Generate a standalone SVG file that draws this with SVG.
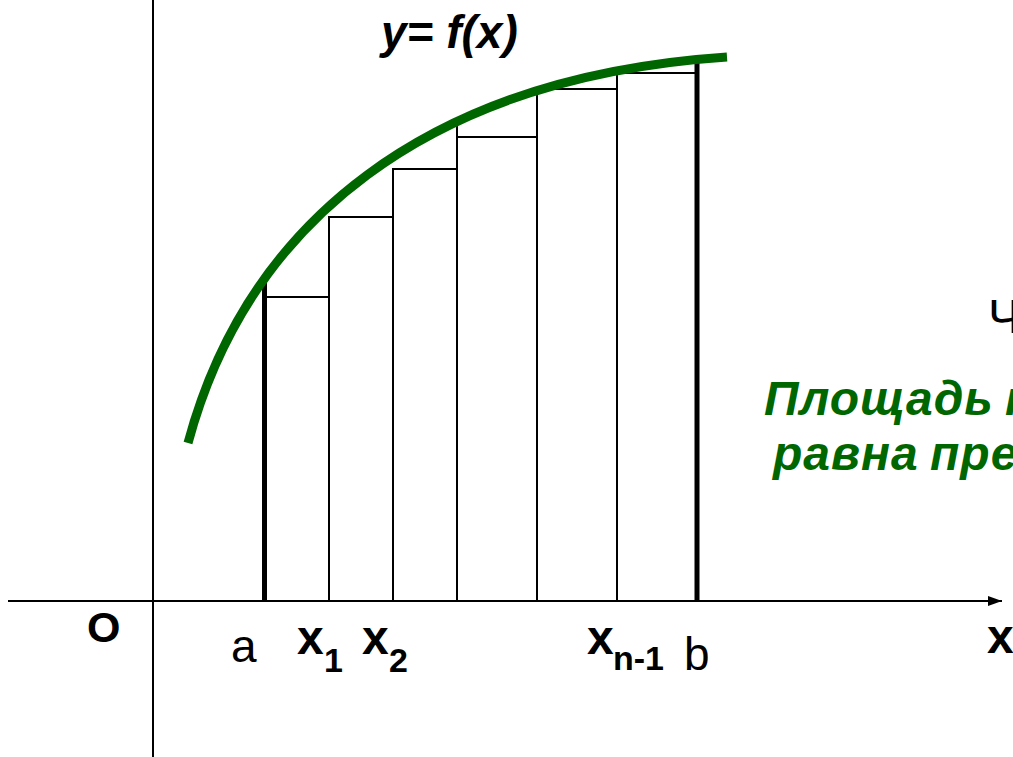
<svg xmlns="http://www.w3.org/2000/svg" width="1013" height="757" viewBox="0 0 1013 757">
<style>
.ax{stroke:#000;stroke-width:2;fill:none}
.rc{stroke:#000;stroke-width:2;fill:none}
.thick{stroke:#000;stroke-width:5;fill:none}
.curve{stroke:#006600;stroke-width:9;fill:none;stroke-linecap:butt}
text{font-family:"Liberation Sans",Arial,sans-serif;fill:#000}
.b{font-weight:bold}
.bi{font-weight:bold;font-style:italic}
.g{fill:#006600;font-weight:bold;font-style:italic;font-size:48px;letter-spacing:1px}
</style>
<defs>
<marker id="arr" markerWidth="14" markerHeight="10" refX="14" refY="5" orient="auto" markerUnits="userSpaceOnUse">
<path d="M0,0 L14,5 L0,10 Z" fill="#000"/>
</marker>
</defs>
<rect width="1013" height="757" fill="#fff"/>
<g id="connectors">
<line id="y-axis" class="ax" x1="153" y1="0" x2="153" y2="757"/>
<line id="x-axis" class="ax" x1="8" y1="601" x2="1002" y2="601" marker-end="url(#arr)"/>
</g>
<g id="rectangles">
<polyline class="rc" points="264,601 264,297 329,297 329,601"/>
<polyline class="rc" points="329,601 329,217 393,217 393,601"/>
<polyline class="rc" points="393,601 393,169 457,169 457,601"/>
<line class="rc" x1="457" y1="121" x2="457" y2="601"/>
<polyline class="rc" points="457,137 537,137 537,601"/>
<polyline class="rc" points="537,601 537,89 617,89 617,601"/>
<polyline class="rc" points="617,601 617,73 697,73"/>
</g>
<g id="bounds">
<line class="thick" x1="264.5" y1="281" x2="264.5" y2="601"/>
<line class="thick" x1="697" y1="57" x2="697" y2="601"/>
</g>
<g id="curve">
<path class="curve" d="M188,443 C247.5,222.5 427,77 727,57"/>
</g>
<g id="labels">
<text class="bi" x="381" y="48" font-size="46">y= f(x)</text>
<text class="b" x="87" y="642" font-size="43">O</text>
<text x="231" y="662" font-size="46">a</text>
<text class="b" x="297" y="654" font-size="48">x<tspan x="324" y="672" font-size="34">1</tspan></text>
<text class="b" x="362" y="654" font-size="48">x<tspan x="389" y="672" font-size="34">2</tspan></text>
<text class="b" x="587" y="654" font-size="48">x<tspan x="613" y="670" font-size="34">n-1</tspan></text>
<text x="684" y="670" font-size="46">b</text>
<text class="b" x="987" y="653" font-size="48">x</text>
<text x="988" y="333" font-size="48">Ч</text>
<text class="g" x="764" y="415">Площадь<tspan x="1005">к</tspan></text>
<text class="g" x="773" y="470">равна<tspan x="930">пре</tspan></text>
</g>
</svg>
